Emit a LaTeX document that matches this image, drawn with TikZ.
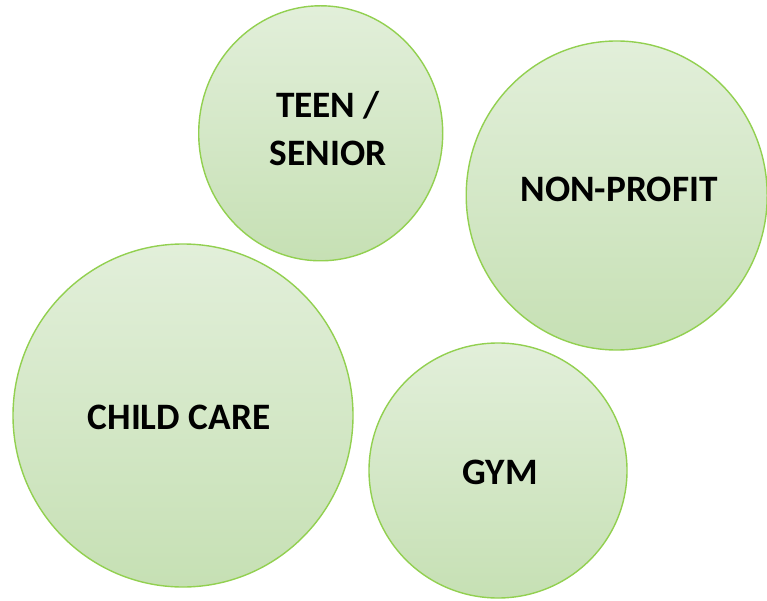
\documentclass[tikz,border=0pt]{standalone}
\usepackage{fontspec}
\setmainfont{Carlito}
\usetikzlibrary{shapes.geometric}
\definecolor{edgegreen}{HTML}{92D050}
\definecolor{topfill}{HTML}{E2EFDA}
\definecolor{botfill}{HTML}{C6E0B4}
\begin{document}
\begin{tikzpicture}[x=1pt,y=-1pt,
  bubble/.style={ellipse, draw=edgegreen, line width=1.4pt, top color=topfill, bottom color=botfill, inner sep=0pt},
  lbl/.style={font=\fontsize{37.3}{48}\selectfont\bfseries, align=center, text=black, inner sep=0pt}]
\useasboundingbox (0,0) rectangle (767,601);
\node[bubble, minimum width=244pt, minimum height=255pt] (teen) at (320.7,133.3) {};
\node[bubble, minimum width=301pt, minimum height=309pt] (nonprofit) at (616.7,195.5) {};
\node[bubble, minimum width=340pt, minimum height=343pt] (child) at (183,415.5) {};
\node[bubble, minimum width=258pt, minimum height=255pt] (gym) at (498,470.5) {};
\node[lbl] (teenlbl) at (328,129) {TEEN /\\SENIOR};
\node[lbl] (nonprofitlbl) at (619,189) {NON-PROFIT};
\node[lbl] (childlbl) at (179,417) {CHILD CARE};
\node[lbl] (gymlbl) at (500,472) {GYM};
\end{tikzpicture}
\end{document}
